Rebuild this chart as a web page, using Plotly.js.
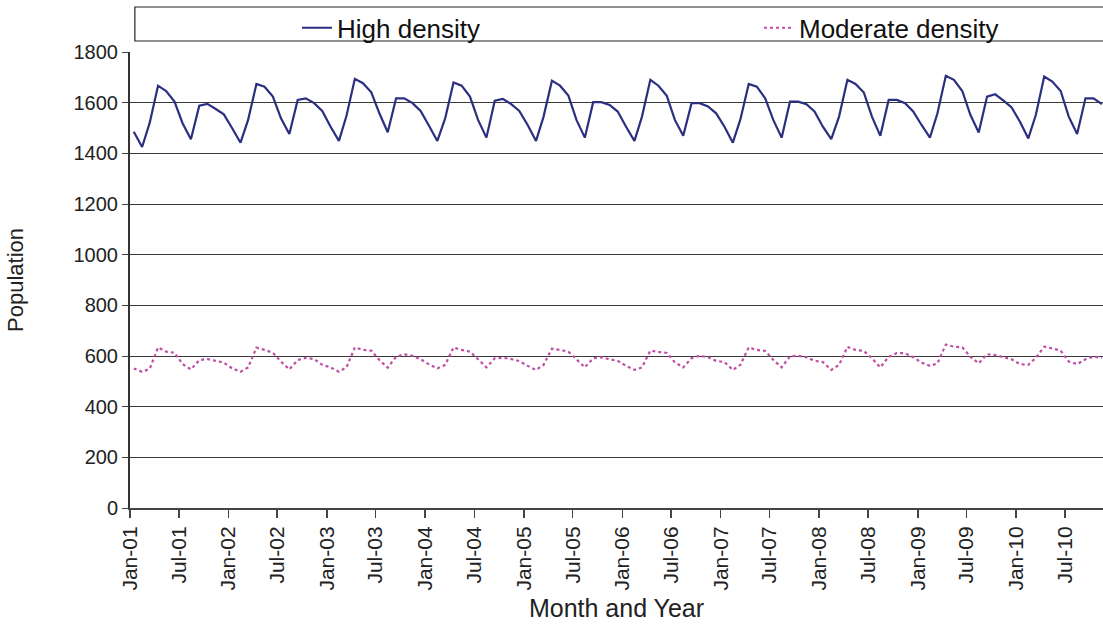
<!DOCTYPE html>
<html>
<head>
<meta charset="utf-8">
<script src="https://cdn.plot.ly/plotly-3.0.1.min.js"></script>
<style>html,body{margin:0;padding:0;background:#fff;}#chart{width:1103px;height:628px;}</style>
</head>
<body>
<div id="chart"></div>
<script>
// Monthly observations, Jan 2001 - Nov 2010 (plotted mid-month)
var startYear = 2001;
var nMonths = 119;

var highDensity = [
  1485, 1425, 1520, 1667, 1646, 1604, 1519, 1456, 1588, 1595, 1575, 1554,
  1499, 1442, 1532, 1674, 1663, 1624, 1538, 1476, 1611, 1617, 1598, 1567,
  1505, 1449, 1548, 1694, 1677, 1641, 1558, 1483, 1617, 1617, 1598, 1567,
  1509, 1449, 1538, 1680, 1667, 1624, 1532, 1462, 1608, 1615, 1594, 1567,
  1512, 1449, 1545, 1687, 1667, 1628, 1532, 1462, 1602, 1602, 1591, 1565,
  1505, 1449, 1545, 1690, 1667, 1627, 1532, 1469, 1598, 1598, 1585, 1558,
  1505, 1442, 1534, 1674, 1663, 1617, 1532, 1462, 1604, 1604, 1594, 1565,
  1505, 1456, 1545, 1690, 1674, 1640, 1545, 1469, 1611, 1611, 1598, 1565,
  1512, 1462, 1558, 1706, 1690, 1646, 1552, 1482, 1624, 1633, 1608, 1581,
  1525, 1459, 1552, 1703, 1683, 1646, 1545, 1476, 1617, 1617, 1594
];

var moderateDensity = [
  551, 538, 549, 634, 617, 613, 568, 547, 584, 588, 581, 574,
  551, 538, 555, 633, 624, 613, 578, 547, 584, 593, 588, 565,
  555, 538, 555, 634, 624, 621, 584, 554, 597, 607, 601, 587,
  567, 551, 565, 634, 624, 617, 587, 555, 591, 593, 588, 580,
  561, 545, 565, 629, 624, 617, 587, 555, 591, 595, 587, 581,
  561, 545, 555, 621, 616, 612, 575, 555, 591, 601, 595, 581,
  576, 545, 565, 634, 624, 620, 585, 555, 599, 601, 595, 581,
  576, 545, 565, 636, 624, 620, 591, 555, 597, 611, 611, 595,
  574, 561, 571, 645, 637, 634, 597, 571, 607, 604, 595, 587,
  568, 565, 593, 637, 630, 621, 578, 568, 587, 597, 593
];

var seriesNames = ["High density", "Moderate density"];
var yTickValues = [0, 200, 400, 600, 800, 1000, 1200, 1400, 1600, 1800];

function pad(n){ return (n < 10 ? "0" : "") + n; }
var months = [];
for (var i = 0; i < nMonths; i++) {
  var y = startYear + Math.floor(i / 12);
  var m = (i % 12) + 1;
  months.push(y + "-" + pad(m) + "-15");
}

var FONT = "Liberation Sans, Arial, Helvetica, sans-serif";

var traces = [
  {
    x: months, y: highDensity, name: seriesNames[0],
    type: "scatter", mode: "lines", legend: "legend",
    line: {color: "#2B2F7F", width: 2.2}
  },
  {
    x: months, y: moderateDensity, name: seriesNames[1],
    type: "scatter", mode: "lines", legend: "legend2",
    line: {color: "#C04FA4", width: 2.2, dash: "dot"}
  }
];

var legendCommon = {
  orientation: "h",
  xanchor: "left",
  y: 1.053, yanchor: "middle",
  bgcolor: "rgba(0,0,0,0)",
  borderwidth: 0,
  font: {family: FONT, size: 26, color: "#111"}
};

var layout = {
  width: 1103, height: 628,
  margin: {l: 130, r: 0, t: 52, b: 120, autoexpand: false},
  paper_bgcolor: "#ffffff",
  plot_bgcolor: "#ffffff",
  font: {family: FONT, color: "#222", size: 20},
  showlegend: true,
  legend: Object.assign({}, legendCommon, {x: (297 - 130) / 973}),
  legend2: Object.assign({}, legendCommon, {x: (759 - 130) / 973}),
  xaxis: {
    type: "date",
    range: ["2001-01-01", "2010-11-19"],
    tick0: "2001-01-01",
    dtick: "M6",
    tickformat: "%b-%y",
    tickangle: -90,
    ticks: "outside",
    ticklen: 8,
    tickcolor: "#444",
    tickwidth: 1.5,
    tickfont: {family: FONT, size: 21, color: "#222"},
    showgrid: false,
    showline: true,
    linecolor: "#444",
    linewidth: 2,
    zeroline: false,
    title: {text: "Month and Year", font: {family: FONT, size: 25, color: "#222"}, standoff: 10},
    automargin: false,
    fixedrange: true
  },
  yaxis: {
    range: [0, 1800],
    tickvals: yTickValues,
    ticks: "outside",
    ticklen: 6,
    tickcolor: "#444",
    tickfont: {family: FONT, size: 20, color: "#222"},
    showgrid: true,
    gridcolor: "#3a3a3a",
    gridwidth: 1,
    showline: true,
    linecolor: "#333",
    linewidth: 2,
    zeroline: false,
    title: {text: "Population", font: {family: FONT, size: 22, color: "#222"}, standoff: 44},
    automargin: false,
    fixedrange: true
  },
  shapes: [
    {
      type: "rect", xref: "paper", yref: "paper",
      x0: 0.005, x1: 1.01,
      y0: 1 + (52 - 41) / 456, y1: 1 + (52 - 7) / 456,
      line: {color: "#222", width: 1.2},
      fillcolor: "rgba(0,0,0,0)"
    }
  ]
};

Plotly.newPlot("chart", traces, layout, {displayModeBar: false, staticPlot: true});
</script>
</body>
</html>
